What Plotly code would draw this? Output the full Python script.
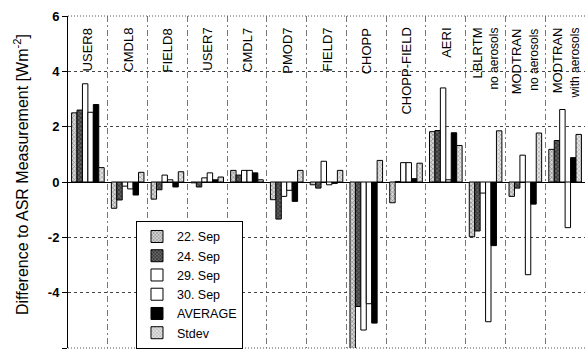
import plotly.graph_objects as go

# Instruments / models compared with the ASR reference
categories = ["USER8", "CMDL8", "FIELD8", "USER7", "CMDL7", "PMOD7", "FIELD7",
              "CHOPP", "CHOPP-FIELD", "AERI", "LBLRTM_no", "MODTRAN_no", "MODTRAN_with"]
label_main = ["USER8", "CMDL8", "FIELD8", "USER7", "CMDL7", "PMOD7", "FIELD7",
              "CHOPP", "CHOPP-FIELD", "AERI", "LBLRTM", "MODTRAN", "MODTRAN"]
label_sub = ["", "", "", "", "", "", "", "", "", "",
             "no aerosols", "no aerosols", "with aerosols"]

# Differences to ASR measurement [W m-2]
sep22 = [2.5, -0.95, -0.62, -0.03, 0.42, -0.64, -0.1, -6.3, -0.75, 1.82, -1.98, -0.52, 1.18]
sep24 = [2.6, -0.65, -0.28, -0.18, 0.25, -1.34, -0.22, -4.5, 0.02, 1.86, -1.77, -0.22, 1.5]
sep29 = [3.55, -0.15, 0.25, 0.15, 0.42, -0.52, 0.75, -5.35, 0.7, 3.4, -0.4, 0.97, 2.62]
sep30 = [2.52, -0.25, 0.08, 0.33, 0.42, -0.3, -0.1, -4.4, 0.7, 0.08, -5.05, -3.35, -1.65]
average = [2.8, -0.47, -0.18, 0.08, 0.33, -0.7, -0.05, -5.1, 0.12, 1.78, -2.3, -0.8, 0.88]
stdev = [0.52, 0.35, 0.37, 0.18, 0.08, 0.42, 0.42, 0.78, 0.68, 1.32, 1.85, 1.77, 1.72]

y_ticks = [6, 4, 2, 0, -2, -4, -6]
y_ticktext = ["6", "4", "2", "0", "-2", "-4", "-6"]

FONT = "Arial, Liberation Sans, sans-serif"

series = [
    ("22. Sep", sep22, dict(color="#d0d0d0", pattern=dict(shape="x", fgcolor="#333", bgcolor="#d8d8d8", size=3, solidity=0.4))),
    ("24. Sep", sep24, dict(color="#444", pattern=dict(shape="x", fgcolor="#000", bgcolor="#6a6a6a", size=3, solidity=0.55))),
    ("29. Sep", sep29, dict(color="#ffffff")),
    ("30. Sep", sep30, dict(color="#ffffff")),
    ("AVERAGE", average, dict(color="#000000")),
    ("Stdev", stdev, dict(color="#e0e0e0", pattern=dict(shape="x", fgcolor="#555", bgcolor="#e6e6e6", size=3, solidity=0.35))),
]

fig = go.Figure()
for i, (name, vals, mk) in enumerate(series):
    fig.add_trace(go.Bar(
        x=categories, y=vals, name=name,
        marker=dict(line=dict(color="#000", width=1), **mk),
        legendgroup=f"g{i}",
    ))

# Category names written vertically inside the top of the plot
for cat, main, sub in zip(categories, label_main, label_sub):
    txt = main if not sub else f"{main}<br><span style='font-size:12px'>{sub}</span>"
    fig.add_annotation(
        x=cat, xref="x", y=1, yref="paper", yshift=-10,
        text=txt, textangle=-90, showarrow=False,
        xanchor="center", yanchor="top", align="right",
        font=dict(family=FONT, size=13, color="#000"),
    )

fig.add_annotation(
    text="Difference to ASR Measurement [Wm<sup>-2</sup>]",
    xref="paper", yref="paper", x=-0.091, y=0.524,
    textangle=-90, showarrow=False, xanchor="center", yanchor="middle",
    font=dict(family=FONT, size=16, color="#000"),
)

# dotted frame lines at the top and bottom of the value range
for yy in (0, 1):
    fig.add_shape(type="line", xref="paper", yref="paper", x0=0, x1=1, y0=yy, y1=yy,
                  line=dict(color="#555", width=1, dash="1px,2px"))

fig.update_layout(
    width=585, height=350,
    margin=dict(l=68, r=0, t=16, b=2),
    paper_bgcolor="white", plot_bgcolor="white",
    barmode="group", bargap=0.18, bargroupgap=0,
    font=dict(family=FONT, color="#000"),
    showlegend=True,
    legend=dict(
        x=0.1315, y=0.383, xanchor="left", yanchor="top",
        bgcolor="white", bordercolor="#000", borderwidth=1,
        font=dict(family=FONT, size=12.5, color="#000"),
        tracegroupgap=0, traceorder="normal", itemwidth=30,
    ),
)

fig.update_xaxes(
    showticklabels=False, ticks="", tickson="boundaries",
    showgrid=True, gridcolor="#777", gridwidth=1, griddash="6px,3px,2px,3px",
    showline=False, zeroline=False,
)
fig.update_yaxes(
    range=[-6, 6], tickvals=y_ticks, ticktext=y_ticktext,
    tickfont=dict(family=FONT, size=13, color="#000", weight="bold"),
    ticks="outside", ticklen=5, tickcolor="#000",
    showline=True, linecolor="#000", linewidth=1,
    showgrid=True, gridcolor="#444", gridwidth=1, griddash="3px,3px",
    zeroline=True, zerolinecolor="#000", zerolinewidth=1,
)

fig.write_html("out.html")
